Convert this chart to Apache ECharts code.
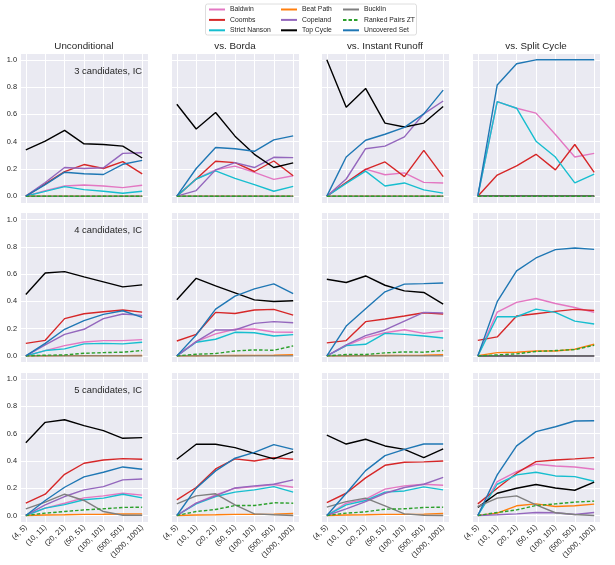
<!DOCTYPE html>
<html>
<head>
<meta charset="utf-8">
<script src="https://cdn.jsdelivr.net/npm/echarts@6/dist/echarts.min.js"></script>
<style>
html,body{margin:0;padding:0;background:#fff;}
#chart{width:615px;height:565px;}
</style>
</head>
<body>
<div id="chart"></div>
<script>
const categories = ['(4, 5)', '(10, 11)', '(20, 21)', '(50, 51)', '(100, 101)', '(500, 501)', '(1000, 1001)'];
const methods = ['Baldwin', 'Coombs', 'Strict Nanson', 'Beat Path', 'Copeland', 'Top Cycle', 'Bucklin', 'Ranked Pairs ZT', 'Uncovered Set'];
const methodColors = ['#e377c2', '#d62728', '#17becf', '#ff7f0e', '#9467bd', '#000000', '#7f7f7f', '#2ca02c', '#1f77b4'];
const colTitles = ['Unconditional', 'vs. Borda', 'vs. Instant Runoff', 'vs. Split Cycle'];
const rowLabels = ['3 candidates, IC', '4 candidates, IC', '5 candidates, IC'];

// each panel: rows in the order of `methods`
const n3_uncond = [
  [0, 0.040, 0.075, 0.082, 0.075, 0.063, 0.080],
  [0, 0.090, 0.180, 0.232, 0.203, 0.254, 0.164],
  [0, 0.035, 0.070, 0.048, 0.036, 0.022, 0.036],
  [0, 0, 0, 0, 0, 0, 0],
  [0, 0.100, 0.210, 0.203, 0.208, 0.314, 0.319],
  [0.340, 0.403, 0.483, 0.384, 0.379, 0.367, 0.280],
  [0, 0, 0, 0, 0, 0, 0],
  [0, 0, 0, 0, 0, 0, 0],
  [0, 0.085, 0.176, 0.164, 0.159, 0.234, 0.263]
];
const n3_borda = [
  [0, 0.126, 0.193, 0.220, 0.174, 0.123, 0.150],
  [0, 0.126, 0.256, 0.246, 0.181, 0.258, 0.150],
  [0, 0.126, 0.186, 0.130, 0.085, 0.036, 0.072],
  [0, 0, 0, 0, 0, 0, 0],
  [0, 0.041, 0.193, 0.246, 0.210, 0.285, 0.283],
  [0.674, 0.493, 0.614, 0.440, 0.307, 0.210, 0.244],
  [0, 0, 0, 0, 0, 0, 0],
  [0, 0, 0, 0, 0, 0, 0],
  [0, 0.203, 0.357, 0.348, 0.329, 0.413, 0.442]
];
const n3_irv = [
  [0, 0.100, 0.198, 0.157, 0.171, 0.101, 0.097],
  [0, 0.100, 0.196, 0.251, 0.143, 0.336, 0.143],
  [0, 0.094, 0.184, 0.075, 0.097, 0.046, 0.022],
  [0, 0, 0, 0, 0, 0, 0],
  [0, 0.126, 0.348, 0.367, 0.435, 0.604, 0.698],
  [1.000, 0.652, 0.790, 0.536, 0.507, 0.536, 0.657],
  [0, 0, 0, 0, 0, 0, 0],
  [0, 0, 0, 0, 0, 0, 0],
  [0, 0.287, 0.410, 0.454, 0.505, 0.604, 0.778]
];
const n3_split = [
  [0, 0.693, 0.645, 0.609, 0.452, 0.287, 0.314],
  [0, 0.155, 0.222, 0.307, 0.193, 0.379, 0.174],
  [0, 0.693, 0.645, 0.403, 0.287, 0.097, 0.162],
  [0, 0, 0, 0, 0, 0, 0],
  [0, 0, 0, 0, 0, 0, 0],
  [0, 0, 0, 0, 0, 0, 0],
  [0, 0, 0, 0, 0, 0, 0],
  [0, 0, 0, 0, 0, 0, 0],
  [0, 0.816, 0.971, 1.000, 1.000, 1.000, 1.000]
];
const n4_uncond = [
  [0, 0.039, 0.075, 0.102, 0.112, 0.112, 0.119],
  [0.092, 0.114, 0.273, 0.309, 0.324, 0.336, 0.321],
  [0, 0.039, 0.051, 0.088, 0.092, 0.088, 0.100],
  [0, 0.001, 0.002, 0.002, 0.002, 0.002, 0.003],
  [0, 0.080, 0.158, 0.195, 0.273, 0.307, 0.297],
  [0.450, 0.608, 0.618, 0.579, 0.543, 0.506, 0.521],
  [0, 0, 0, 0, 0, 0, 0],
  [0, 0.005, 0.007, 0.019, 0.024, 0.027, 0.039],
  [0, 0.092, 0.195, 0.258, 0.304, 0.331, 0.282]
];
const n4_borda = [
  [0, 0.105, 0.161, 0.195, 0.197, 0.175, 0.173],
  [0.109, 0.158, 0.319, 0.311, 0.336, 0.341, 0.299],
  [0, 0.100, 0.122, 0.173, 0.170, 0.146, 0.156],
  [0, 0.001, 0.002, 0.003, 0.004, 0.005, 0.008],
  [0, 0.105, 0.190, 0.190, 0.238, 0.251, 0.243],
  [0.411, 0.569, 0.513, 0.462, 0.411, 0.399, 0.404],
  [0, 0, 0, 0, 0, 0, 0],
  [0, 0.012, 0.017, 0.036, 0.044, 0.041, 0.073],
  [0, 0.153, 0.343, 0.438, 0.491, 0.528, 0.457]
];
const n4_irv = [
  [0, 0.075, 0.134, 0.170, 0.192, 0.165, 0.182],
  [0.095, 0.112, 0.251, 0.270, 0.292, 0.316, 0.307],
  [0, 0.075, 0.085, 0.165, 0.158, 0.146, 0.131],
  [0, 0.001, 0.002, 0.003, 0.004, 0.005, 0.008],
  [0, 0.080, 0.148, 0.190, 0.255, 0.319, 0.314],
  [0.562, 0.538, 0.586, 0.518, 0.477, 0.465, 0.380],
  [0, 0, 0, 0, 0, 0, 0],
  [0, 0.010, 0.010, 0.022, 0.029, 0.027, 0.039],
  [0, 0.219, 0.345, 0.470, 0.526, 0.530, 0.535]
];
const n4_split = [
  [0, 0.321, 0.392, 0.421, 0.384, 0.355, 0.319],
  [0.114, 0.139, 0.292, 0.309, 0.326, 0.341, 0.333],
  [0, 0.287, 0.287, 0.343, 0.319, 0.255, 0.234],
  [0.002, 0.024, 0.027, 0.036, 0.036, 0.049, 0.085],
  [0, 0, 0, 0, 0, 0, 0],
  [0, 0, 0, 0, 0, 0, 0],
  [0, 0, 0, 0, 0, 0, 0],
  [0, 0.007, 0.015, 0.032, 0.039, 0.046, 0.078],
  [0, 0.397, 0.623, 0.718, 0.779, 0.791, 0.781]
];
const n5_uncond = [
  [0, 0.054, 0.090, 0.129, 0.144, 0.163, 0.149],
  [0.090, 0.156, 0.302, 0.383, 0.407, 0.417, 0.412],
  [0, 0.054, 0.080, 0.115, 0.127, 0.156, 0.129],
  [0, 0.003, 0.005, 0.008, 0.009, 0.011, 0.012],
  [0, 0.078, 0.139, 0.188, 0.212, 0.261, 0.268],
  [0.534, 0.683, 0.702, 0.659, 0.622, 0.566, 0.571],
  [0.049, 0.098, 0.156, 0.110, 0.029, 0.002, 0.002],
  [0, 0.017, 0.029, 0.041, 0.049, 0.059, 0.061],
  [0, 0.110, 0.207, 0.283, 0.317, 0.356, 0.339]
];
const n5_borda = [
  [0, 0.090, 0.151, 0.200, 0.212, 0.227, 0.207],
  [0.115, 0.205, 0.341, 0.415, 0.400, 0.424, 0.412],
  [0, 0.085, 0.139, 0.171, 0.188, 0.212, 0.171],
  [0, 0.003, 0.005, 0.008, 0.008, 0.010, 0.015],
  [0, 0.090, 0.144, 0.202, 0.217, 0.229, 0.261],
  [0.412, 0.522, 0.522, 0.498, 0.456, 0.415, 0.468],
  [0.085, 0.144, 0.159, 0.078, 0.012, 0.005, 0],
  [0, 0.029, 0.044, 0.073, 0.073, 0.093, 0.090],
  [0, 0.200, 0.327, 0.420, 0.463, 0.520, 0.485]
];
const n5_irv = [
  [0, 0.090, 0.120, 0.193, 0.217, 0.229, 0.222],
  [0.095, 0.163, 0.276, 0.368, 0.390, 0.393, 0.400],
  [0, 0.078, 0.110, 0.171, 0.180, 0.210, 0.188],
  [0, 0.003, 0.005, 0.008, 0.008, 0.010, 0.015],
  [0, 0.049, 0.102, 0.163, 0.205, 0.229, 0.280],
  [0.590, 0.524, 0.559, 0.510, 0.485, 0.424, 0.488],
  [0.061, 0.102, 0.127, 0.071, 0.012, 0.002, 0],
  [0, 0.017, 0.027, 0.046, 0.049, 0.059, 0.061],
  [0, 0.163, 0.329, 0.439, 0.485, 0.524, 0.524]
];
const n5_split = [
  [0, 0.249, 0.322, 0.376, 0.363, 0.356, 0.339],
  [0.085, 0.200, 0.310, 0.395, 0.407, 0.415, 0.424],
  [0, 0.229, 0.298, 0.317, 0.290, 0.285, 0.251],
  [0, 0.017, 0.071, 0.085, 0.066, 0.071, 0.083],
  [0, 0.005, 0.012, 0.022, 0.020, 0.007, 0.022],
  [0.059, 0.163, 0.200, 0.227, 0.202, 0.185, 0.244],
  [0.066, 0.127, 0.144, 0.078, 0.020, 0.007, 0],
  [0, 0.022, 0.041, 0.073, 0.085, 0.098, 0.105],
  [0, 0.298, 0.510, 0.615, 0.651, 0.693, 0.695]
];

const panels = [
  [n3_uncond, n3_borda, n3_irv, n3_split],
  [n4_uncond, n4_borda, n4_irv, n4_split],
  [n5_uncond, n5_borda, n5_irv, n5_split]
];

// layout
const colLeft = [20, 171, 321, 472];
const panelW = 128;
const rowTop = [53, 212.7, 372.3];
const panelH = 150;
const textColor = '#262626';
const FONT = '"Liberation Sans", Arial, sans-serif';

const grid = [], xAxis = [], yAxis = [], series = [], graphic = [];
let gi = 0;
for (let r = 0; r < 3; r++) {
  for (let c = 0; c < 4; c++) {
    grid.push({left: colLeft[c], top: rowTop[r], width: panelW, height: panelH,
      show: true, backgroundColor: '#eaeaf2', borderWidth: 0, containLabel: false});
    xAxis.push({
      type: 'value', gridIndex: gi, min: -0.3, max: 6.3, minInterval: 1, maxInterval: 1,
      axisLine: {show: false}, axisTick: {show: false},
      splitLine: {show: true, lineStyle: {color: '#ffffff', width: 1}},
      axisLabel: {
        show: r === 2, rotate: 45, fontSize: 7.6, color: textColor, fontFamily: FONT, margin: 4,
        showMinLabel: true, showMaxLabel: true,
        formatter: v => (Math.abs(v - Math.round(v)) < 1e-9 && v >= 0 && v <= 6) ? categories[Math.round(v)] : ''
      }
    });
    yAxis.push({
      type: 'value', gridIndex: gi, min: -0.05, max: 1.05, minInterval: 0.2, maxInterval: 0.2,
      axisLine: {show: false}, axisTick: {show: false},
      splitLine: {show: true, lineStyle: {color: '#ffffff', width: 1}},
      axisLabel: {
        show: c === 0, fontSize: 7.4, color: textColor, fontFamily: FONT, margin: 3,
        formatter: v => (Math.abs(v * 5 - Math.round(v * 5)) < 1e-6 && v >= -1e-9 && v <= 1.0000001) ? v.toFixed(1) : ''
      }
    });
    const data = panels[r][c];
    methods.forEach((m, k) => {
      series.push({
        type: 'line', name: m, xAxisIndex: gi, yAxisIndex: gi,
        data: data[k].map((v, i) => [i, v]),
        symbol: 'none', showSymbol: false, silent: true, z: 2 + k * 0.01,
        lineStyle: {color: methodColors[k], width: 1.4, type: m === 'Ranked Pairs ZT' ? [3.5, 2] : 'solid'},
        itemStyle: {color: methodColors[k]},
        emphasis: {disabled: true}
      });
    });
    gi++;
  }
}

colTitles.forEach((t, c) => {
  graphic.push({type: 'text', x: colLeft[c] + panelW / 2, y: 46, z: 10,
    style: {text: t, fill: textColor, font: '9.8px ' + FONT, textAlign: 'center', textVerticalAlign: 'middle'}});
});
rowLabels.forEach((t, r) => {
  graphic.push({type: 'text', x: colLeft[0] + panelW - 6, y: rowTop[r] + 18, z: 10,
    style: {text: t, fill: textColor, font: '9.4px ' + FONT, textAlign: 'right', textVerticalAlign: 'middle'}});
});
graphic.push({type: 'rect', shape: {x: 205.5, y: 4, width: 211, height: 31, r: 2}, z: -1,
  style: {fill: '#ffffff', stroke: '#d6d6d6', lineWidth: 0.8}});

const legendCols = [[0, 1, 2], [3, 4, 5], [6, 7, 8]];
const legendLeft = [208, 280, 342];
const legend = legendCols.map((idx, j) => ({
  data: idx.map(i => methods[i]), orient: 'vertical', left: legendLeft[j], top: 6,
  itemWidth: 16, itemHeight: 8, itemGap: 3.4, selectedMode: false,
  itemStyle: {opacity: 0, borderWidth: 0},
  textStyle: {fontSize: 6.8, color: textColor, fontFamily: FONT},
  padding: 0
}));

const chart = echarts.init(document.getElementById('chart'), null, {renderer: 'canvas'});
chart.setOption({
  animation: false,
  backgroundColor: '#ffffff',
  grid, xAxis, yAxis, series, legend, graphic
});
</script>
</body>
</html>
